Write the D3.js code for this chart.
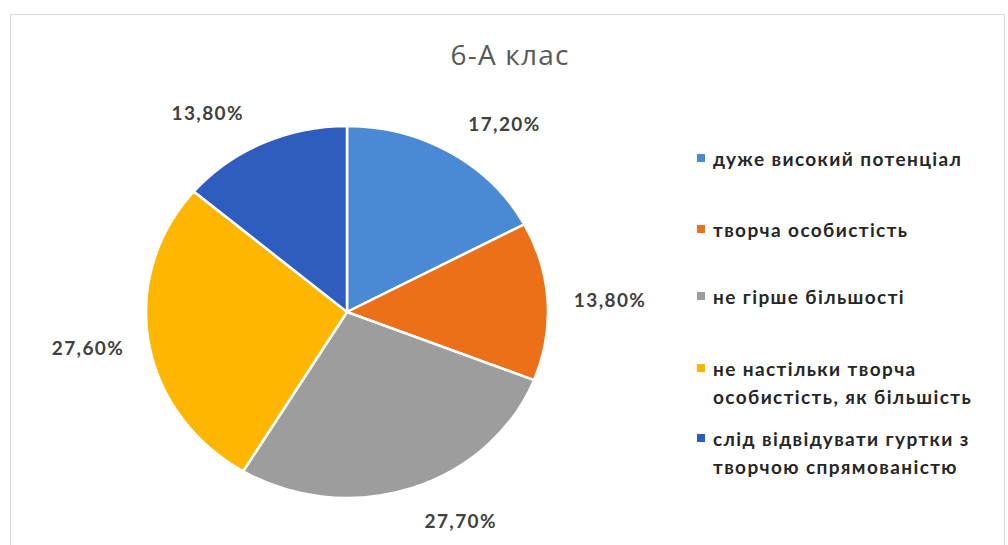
<!DOCTYPE html>
<html>
<head>
<meta charset="utf-8">
<script src="https://cdn.jsdelivr.net/npm/d3@7"></script>
<style>
  body { margin: 0; background: #fff; }
</style>
</head>
<body>
<script>
const categories = [
  "дуже високий потенціал",
  "творча особистість",
  "не гірше більшості",
  "не настільки творча особистість, як більшість",
  "слід відвідувати гуртки з творчою спрямованістю"
];
const values = [17.2, 13.8, 27.7, 27.6, 13.8];
const valueLabels = ["17,20%", "13,80%", "27,70%", "27,60%", "13,80%"];
const legendLines = [
  ["дуже високий потенціал"],
  ["творча особистість"],
  ["не гірше більшості"],
  ["не настільки творча", "особистість, як більшість"],
  ["слід відвідувати гуртки з", "творчою спрямованістю"]
];
const colors = ["#4a8ad4", "#ec6f1a", "#9d9d9d", "#ffb600", "#2e5cbf"];
// small best-fit nudges, like Excel does
const labelShift = [20, -4, 28, 5, -27];

const W = 1008, H = 545;
const svg = d3.select("body").append("svg")
    .attr("width", W)
    .attr("height", H);

// chart border
svg.append("rect")
    .attr("x", 10.5).attr("y", 14.5)
    .attr("width", 994).attr("height", 540)
    .attr("fill", "#fff")
    .attr("stroke", "#d9d9d9");

svg.append("text")
    .attr("x", 510).attr("y", 65)
    .attr("text-anchor", "middle")
    .style("font", "28px 'Liberation Sans Narrow', 'Open Sans', sans-serif")
    .style("letter-spacing", "1.2px")
    .attr("fill", "#595959")
    .text("6-А клас");

const cx = 347, cy = 312, rx = 201, ry = 186;
const r = ry;
const sx = rx / ry;

const pie = d3.pie().sort(null).value(d => d);
const arcs = pie(values);
const arc = d3.arc().innerRadius(0).outerRadius(r);

const g = svg.append("g")
    .attr("transform", `translate(${cx},${cy}) scale(${sx},1)`);

g.selectAll("path")
  .data(arcs)
  .join("path")
    .attr("d", arc)
    .attr("fill", (d, i) => colors[i])
    .attr("stroke", "#fff")
    .attr("stroke-width", 2.5)
    .attr("vector-effect", "non-scaling-stroke");

// data labels outside slices
const pad = 25, lw = 83, lh = 18;
svg.selectAll("text.lbl")
  .data(arcs)
  .join("text")
    .attr("class", "lbl")
    .attr("text-anchor", "middle")
    .attr("dominant-baseline", "central")
    .style("font", "bold 19px Lato, 'Open Sans', sans-serif")
    .style("letter-spacing", "1.4px")
    .attr("fill", "#404040")
    .attr("x", (d, i) => {
      const a = (d.startAngle + d.endAngle) / 2;
      return cx + Math.sin(a) * (rx + pad) + Math.sin(a) * lw / 2 + labelShift[i];
    })
    .attr("y", d => {
      const a = (d.startAngle + d.endAngle) / 2;
      return cy - Math.cos(a) * (ry + pad) - Math.cos(a) * lh / 2;
    })
    .text((d, i) => valueLabels[i]);

// legend
const legendY = [158, 229, 296, 368, 438];
const legend = svg.append("g");
legendLines.forEach((lines, i) => {
  const y = legendY[i];
  legend.append("rect")
      .attr("x", 697).attr("y", y - 4)
      .attr("width", 8).attr("height", 8)
      .attr("fill", colors[i]);
  const t = legend.append("text")
      .attr("x", 713).attr("y", y)
      .attr("dominant-baseline", "central")
      .style("font", "bold 19px Lato, 'Open Sans', sans-serif")
      .style("letter-spacing", "1.4px")
      .attr("fill", "#262626");
  lines.forEach((s, j) => {
    t.append("tspan").attr("x", 713).attr("dy", j ? 28 : 0).text(s);
  });
});
</script>
</body>
</html>
